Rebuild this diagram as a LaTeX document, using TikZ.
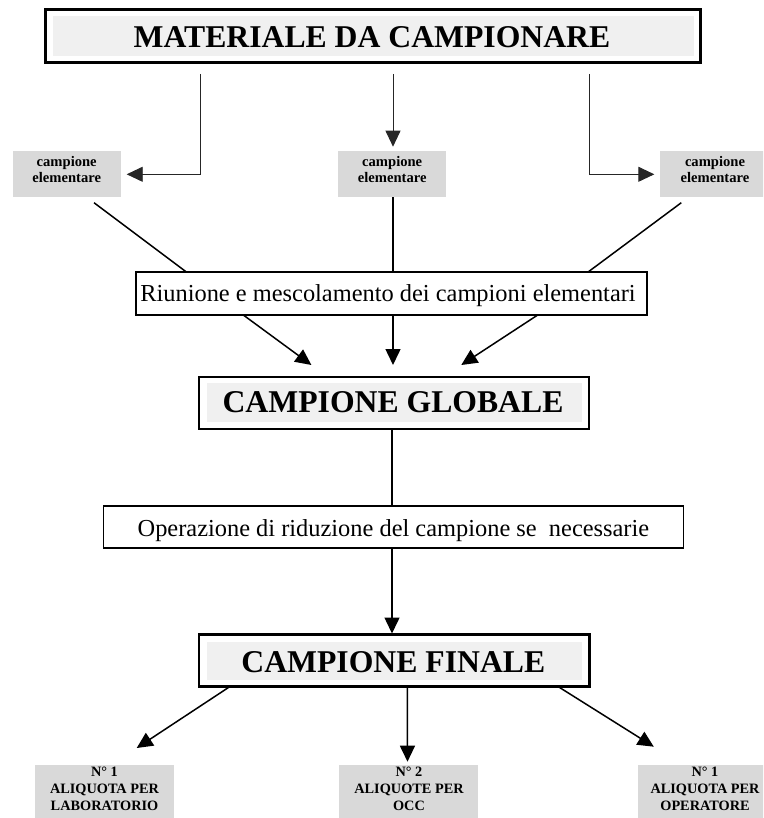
\documentclass[tikz,border=0pt]{standalone}
\usepackage{fontspec}
\setmainfont{Liberation Serif}
\usetikzlibrary{arrows.meta}
\definecolor{boxgrey}{RGB}{217,217,217}
\definecolor{pale}{RGB}{240,240,240}
\tikzset{
  frame/.style={draw=black, line width=2.4pt, fill=white, inner sep=0pt},
  pane/.style={fill=pale, inner sep=0pt},
  head/.style={font=\fontsize{31.7}{38}\bfseries\selectfont, inner sep=0pt},
  plainbox/.style={draw=black, line width=1.8pt, fill=white, inner sep=0pt},
  body/.style={font=\fontsize{24.4}{29}\selectfont, inner sep=0pt},
  chip/.style={fill=boxgrey, inner sep=0pt},
  smalltxt/.style={font=\fontsize{14.6}{15.7}\bfseries\selectfont, align=center, inner sep=0pt},
  tinytxt/.style={font=\fontsize{14.3}{17.2}\bfseries\selectfont, align=center, inner sep=0pt},
  fineline/.style={draw=black!85, line width=0.9pt},
  mainline/.style={draw=black, line width=1.5pt},
  tip/.style={-{Triangle[length=16pt,width=15pt]}},
}
\begin{document}
\begin{tikzpicture}[x=1pt,y=-1pt]
\useasboundingbox (0,0) rectangle (763,818);
\clip (0,0) rectangle (763,818);

% ---- title
\node[frame, minimum width=655pt, minimum height=53pt] (title) at (373,36) {};
\node[pane, minimum width=641pt, minimum height=39.5pt] (titlein) at (373,36) {};
\node[head] (titletxt) at (372,36.7) {MATERIALE DA CAMPIONARE};

% ---- campione elementare boxes
\node[chip, minimum width=108pt, minimum height=46.5pt] (cl) at (66.7,174.2) {};
\node[smalltxt] (clt) at (66.7,169.2) {campione\\elementare};
\node[chip, minimum width=108pt, minimum height=46.5pt] (cm) at (392.2,174.2) {};
\node[smalltxt] (cmt) at (392.2,169.2) {campione\\elementare};
\node[chip, minimum width=108pt, minimum height=46.5pt] (cr) at (714,174.2) {};
\node[smalltxt] (crt) at (715,169.2) {campione\\elementare};

% ---- riunione
\node[plainbox, minimum width=511pt, minimum height=43.3pt] (riun) at (391.2,293.3) {};
\node[body, anchor=base] (riunt) at (388,301.7) {Riunione e mescolamento dei campioni elementari};

% ---- campione globale
\node[frame, minimum width=390pt, minimum height=52.3pt] (glob) at (394.1,402.9) {};
\node[pane, minimum width=375pt, minimum height=38.4pt] (globin) at (394.2,402.5) {};
\node[head] (globt) at (393,402.5) {CAMPIONE GLOBALE};

% ---- operazione
\node[plainbox, minimum width=580pt, minimum height=41.7pt] (oper) at (393.5,526.9) {};
\node[body, anchor=base] (opert) at (393.4,536.3) {Operazione di riduzione del campione se\hspace{0.25em} necessarie};

% ---- campione finale
\node[frame, minimum width=390.5pt, minimum height=52pt] (fin) at (394.2,660.5) {};
\node[pane, minimum width=375pt, minimum height=38.3pt] (finin) at (394.2,660.9) {};
\node[head] (fint) at (393.3,662.5) {CAMPIONE FINALE};

% ---- aliquote
\node[chip, minimum width=139pt, minimum height=70pt] (al) at (104.5,800) {};
\node[tinytxt] (alt) at (104.5,789) {N° 1\\ALIQUOTA PER\\LABORATORIO};
\node[chip, minimum width=138.4pt, minimum height=70pt] (am) at (408.5,800) {};
\node[tinytxt] (amt) at (409,789) {N° 2\\ALIQUOTE PER\\OCC};
\node[chip, minimum width=139pt, minimum height=70pt] (ar) at (707.8,800) {};
\node[tinytxt] (art) at (705,789) {N° 1\\ALIQUOTA PER\\OPERATORE};

% ---- connector end points
\coordinate (tl) at (200,74);
\coordinate (tm) at (393,74);
\coordinate (tr) at (589,74);
\coordinate (cltip) at (126.7,174.3);
\coordinate (cmtip) at (393,146.7);
\coordinate (crtip) at (654.3,174.3);

\coordinate (cls) at (94,202.7);
\coordinate (clend) at (186,271.7);
\coordinate (cms) at (393,197.5);
\coordinate (cmend) at (393,271.7);
\coordinate (crs) at (681.3,202.7);
\coordinate (crend) at (588.5,271.7);

\coordinate (rl) at (243.3,315);
\coordinate (rltip) at (311.4,365);
\coordinate (rm) at (393,315);
\coordinate (rmtip) at (393,365);
\coordinate (rr) at (537.7,315);
\coordinate (rrtip) at (461.3,365);

\coordinate (gs) at (392,429);
\coordinate (oe) at (392,506);
\coordinate (os) at (392,547.7);
\coordinate (ftip) at (392,633.5);

\coordinate (fl) at (230,686.5);
\coordinate (fltip) at (136.7,748);
\coordinate (fm) at (407.3,686.5);
\coordinate (fmtip) at (407.5,761.7);
\coordinate (fr) at (558,686.5);
\coordinate (frtip) at (653.8,746.7);

% ---- connectors
\draw[fineline, tip] (tl) |- (cltip);
\draw[fineline, tip] (tm) -- (cmtip);
\draw[fineline, tip] (tr) |- (crtip);

\draw[mainline] (cls) -- (clend);
\draw[mainline] (cms) -- (cmend);
\draw[mainline] (crs) -- (crend);

\draw[mainline, tip] (rl) -- (rltip);
\draw[mainline, tip] (rm) -- (rmtip);
\draw[mainline, tip] (rr) -- (rrtip);

\draw[mainline] (gs) -- (oe);
\draw[mainline, tip] (os) -- (ftip);

\draw[mainline, tip] (fl) -- (fltip);
\draw[mainline, tip] (fm) -- (fmtip);
\draw[mainline, tip] (fr) -- (frtip);
\end{tikzpicture}
\end{document}
